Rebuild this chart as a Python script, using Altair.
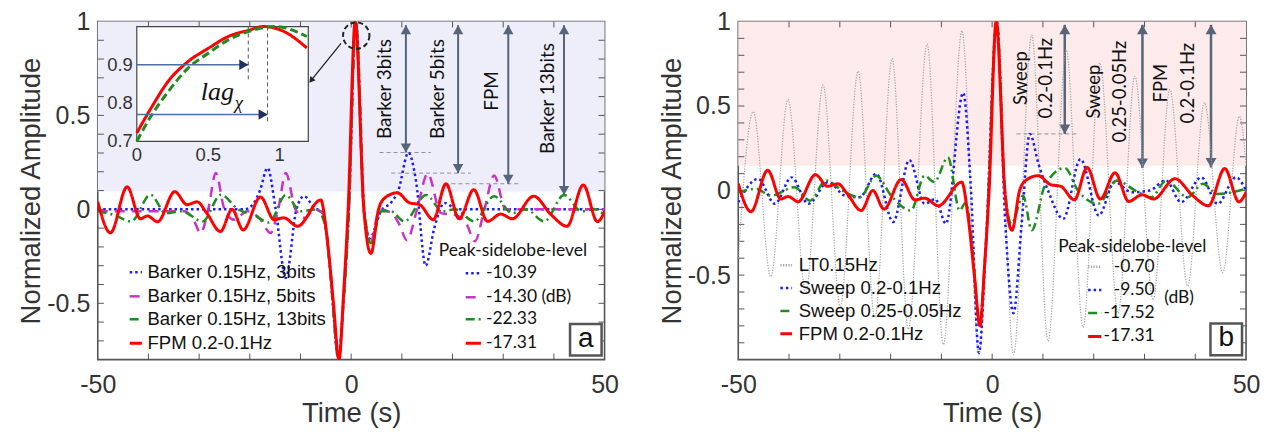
import altair as alt
import pandas as pd

# ---------------- series values (time in s, normalized amplitude) ----------------
# FPM 0.2-0.1Hz (same waveform in both panels)
fpm_t = [-50, -47.5, -44.2, -41.6, -40.2, -38.2, -34.8, -32.4, -30.4, -28.5,
         -25.8, -23.5, -21.3, -17.9, -15.2, -13.3, -10.6, -6.0, -4.8, -3.5,
         -2.4, -1.5, -0.6, 0.8, 2.5, 3.9, 5.4, 6.6, 9.1, 11.5,
         13.5, 16.2, 18.7, 21.3, 24.2, 26.9, 29.5, 31.8, 36.0, 39.5,
         42.6, 45.8, 48.6, 50]
fpm_y = [0.04, -0.125, 0.12, -0.05, -0.035, -0.066, 0.094, 0.025, 0.04, -0.02,
         -0.118, 0.0, -0.11, 0.066, -0.055, -0.045, -0.09, 0.05, -0.14, -0.5,
         -0.80, -0.45, 0.0, 1.0, 0.0, -0.235, 0.0, 0.06, 0.088, 0.035,
         0.025, -0.055, 0.136, -0.05, 0.105, -0.064, -0.025, -0.05, 0.07, -0.03,
         -0.09, 0.13, -0.066, -0.01]

# Barker 0.15Hz, 3 bits
b3_t = [-50, -21.0, -19.3, -18.0, -16.5, -14.9, -12.9, -10.8, -9.3, -7.3,
        -5.6, -4.2, -2.5, -1.5, -0.5, 0.9, 2.5, 3.6, 5.9, 8.0,
        9.3, 11.3, 12.8, 14.7, 16.4, 18.4, 21.0, 50]
b3_y = [0.0, 0.0, 0.03, 0.1, 0.22, 0.0, -0.365, 0.0, 0.07, 0.01,
        -0.02, -0.3, -0.79, -0.48, -0.03, 1.0, 0.0, -0.155, -0.01, 0.04,
        0.1, 0.302, 0.15, -0.30, -0.1, 0.034, 0.0, 0.0]

# Barker 0.15Hz, 5 bits
b5_t = [-50, -33.0, -31.2, -29.7, -28.2, -26.7, -25.0, -23.1, -20.5, -18.0,
        -15.9, -14.4, -12.9, -11.0, -9.0, -7.4, -5.6, -4.2, -2.5, -1.5,
        -0.5, 0.9, 2.5, 3.9, 5.6, 8.0, 9.5, 11.0, 13.0, 15.1,
        17.7, 20.5, 22.8, 24.4, 26.3, 28.2, 30.5, 33.0, 50]
b5_y = [-0.01, -0.01, -0.05, -0.126, 0.0, 0.193, 0.0, -0.055, -0.01, -0.05,
        -0.126, 0.0, 0.193, 0.0, -0.046, 0.0, -0.02, -0.3, -0.79, -0.48,
        -0.03, 1.0, 0.0, -0.17, 0.0, -0.02, -0.08, -0.165, 0.0, 0.19,
        -0.02, -0.03, -0.08, -0.17, 0.0, 0.18, 0.0, 0.0, 0.0]

# Barker 0.15Hz, 13 bits
b13_t = [-50, -46.8, -43.4, -39.6, -36.6, -33.5, -29.3, -25.7, -22.3, -19.2,
         -16.2, -12.9, -10.0, -6.8, -5.0, -3.8, -2.5, -1.5, -0.5, 0.95,
         2.6, 3.9, 5.9, 7.8, 10.5, 14.8, 18.0, 20.5, 24.3, 28.2,
         31.8, 34.5, 38.1, 42.0, 45.5, 48.0, 50]
b13_y = [-0.01, -0.03, -0.064, 0.078, -0.02, -0.01, -0.064, 0.078, 0.0, -0.03,
         -0.07, 0.076, -0.01, 0.0, -0.1, -0.45, -0.80, -0.5, -0.05, 1.0,
         0.0, -0.18, -0.01, -0.01, -0.064, 0.076, -0.01, 0.0, -0.064, 0.07,
         -0.02, 0.0, -0.064, 0.076, -0.01, 0.0, -0.03]

# LT 0.15Hz
lt_t = [-50, -47.05, -43.6, -40.2, -36.7, -33.3, -29.9, -26.4, -23.1, -19.7,
        -16.5, -12.8, -9.6, -5.95, -2.6, 0.9, 4.2, 7.8, 11.0, 14.6,
        17.9, 21.2, 24.8, 28.1, 31.7, 35.0, 38.5, 41.8, 45.4, 48.7, 50]
lt_y = [-0.4, 0.466, -0.51, 0.539, -0.6, 0.624, -0.686, 0.706, -0.75, 0.78,
        -0.82, 0.866, -0.91, 0.945, -0.97, 1.0, -0.97, 0.92, -0.89, 0.833,
        -0.81, 0.755, -0.725, 0.676, -0.647, 0.598, -0.565, 0.52, -0.486, 0.44, 0.15]

# Sweep 0.2-0.1Hz
sw1_t = [-50, -46.1, -42.8, -39.5, -36.2, -32.3, -29.0, -26.1, -22.8, -19.5,
         -16.3, -13.3, -11.2, -9.1, -5.7, -4.2, -2.6, -1.2, 0.9, 2.6,
         4.2, 5.8, 7.4, 9.2, 11.0, 14.0, 17.4, 21.0, 24.1, 27.5,
         31.0, 34.2, 37.2, 41.2, 44.4, 48.0, 50]
sw1_y = [-0.069, 0.069, -0.078, 0.078, -0.078, 0.05, -0.03, -0.04, 0.1, -0.186,
         0.18, -0.078, -0.05, -0.196, 0.578, 0.02, -0.96, -0.3, 1.0, -0.2,
         -0.725, -0.2, 0.335, 0.15, 0.0, -0.167, 0.186, -0.147, 0.05, -0.01,
         0.0, 0.06, -0.069, 0.078, -0.078, 0.078, 0.0]

# Sweep 0.25-0.05Hz
sw2_t = [-50, -46.5, -43.5, -38.9, -35.9, -32.7, -29.5, -26.1, -22.8, -19.9,
         -16.0, -13.3, -11.4, -8.7, -6.4, -5.2, -4.0, -2.5, -1.2, 0.95,
         2.5, 3.8, 6.1, 7.8, 10.4, 14.3, 16.9, 20.9, 24.5, 28.2,
         31.3, 34.3, 38.5, 41.5, 44.4, 50]
sw2_y = [-0.01, 0.01, -0.03, 0.02, -0.06, 0.06, 0.0, -0.04, 0.088, -0.03,
         -0.118, 0.088, 0.05, 0.196, -0.118, -0.07, -0.3, -0.78, -0.3, 1.0,
         0.0, -0.196, -0.03, -0.235, 0.03, 0.133, 0.0, -0.078, 0.059, 0.0,
         -0.04, 0.059, -0.04, 0.04, -0.02, 0.01]

# close-up of the main peak (inset): time in s, amplitude
inset_red_x = [0, 0.1, 0.22, 0.36, 0.5, 0.64, 0.78, 0.89, 1.03, 1.19]
inset_red_y = [0.722, 0.787, 0.857, 0.909, 0.943, 0.974, 0.99, 1.0, 0.987, 0.944]
inset_grn_x = [0, 0.1, 0.22, 0.36, 0.5, 0.64, 0.78, 0.97, 1.19]
inset_grn_y = [0.70, 0.766, 0.83, 0.892, 0.93, 0.965, 0.987, 1.0, 0.974]
inset_lag_level = [0.9, 0.77]
inset_lag_end = [0.78, 0.915]
inset_lag_drop = [0.862, 0.744]

# ---------------- names, levels, labels ----------------
A_NAMES = ["Barker 0.15Hz, 3bits", "Barker 0.15Hz, 5bits", "Barker 0.15Hz, 13bits", "FPM 0.2-0.1Hz"]
A_PSL_TEXT = ["-10.39", "-14.30 (dB)", "-22.33", "-17.31"]
B_NAMES = ["LT0.15Hz", "Sweep 0.2-0.1Hz", "Sweep 0.25-0.05Hz", "FPM 0.2-0.1Hz"]
B_PSL_TEXT = ["-0.70", "-9.50", "-17.52", "-17.31"]
PSL_TITLE = "Peak-sidelobe-level"

A_ARROW_TEXT = ["Barker 3bits", "Barker 5bits", "FPM", "Barker 13bits"]
A_ARROW_PSL_DB = [-10.39, -14.30, -17.31, -22.33]
B_ARROW_TEXT = ["Sweep", "0.2-0.1Hz", "Sweep", "0.25-0.05Hz", "FPM", "0.2-0.1Hz"]
B_ARROW_PSL_DB = [-9.50, -17.52, -17.31]

X_TICK_LABELS = [-50, 0, 50]
Y_TICK_LABELS = [-0.5, 0, 0.5, 1]
INSET_X_LABELS = [0, 0.5, 1]
INSET_Y_LABELS = [0.7, 0.8, 0.9]


def db_to_amp(db):
    return 10 ** (db / 20.0)


# ---------------- styling ----------------
SANS = "Liberation Sans"
HUM = "Lato"
INK = "#111111"
AX_INK = "#333333"
FRAME = "#555555"
ARROW = "#56657a"

RED, BLUE, MAG, GRN, GRAY = "#ff0000", "#1a1aff", "#c832c8", "#1e8c1e", "#a0a0a0"
DOT, DASH, DASHDOT, SOLID, FINE = [2.5, 3], [10, 7], [9, 4, 2, 4], [1, 0], [1.2, 1.5]

A_STYLE = [(BLUE, DOT, 2.5), (MAG, DASH, 2.5), (GRN, DASHDOT, 2.5), (RED, SOLID, 3)]
B_STYLE = [(GRAY, FINE, 1.2), (BLUE, DOT, 2.5), (GRN, DASHDOT, 2.5), (RED, SOLID, 3)]

W_A, W_B, H = 508, 509, 339
XS = alt.Scale(domain=[-50, 50], nice=False, zero=False)
YS_A = alt.Scale(domain=[-0.8, 1.0], nice=False, zero=False)
YS_B = alt.Scale(domain=[-1.0, 1.0], nice=False, zero=False)

NUM = "toString(datum.value)"
# the same explicit axis is given to every layer so that the shared axis merges cleanly
X_AXIS = alt.Axis(values=X_TICK_LABELS, title="Time (s)", labelExpr=NUM, labelFlush=False,
                  labelPadding=13, titlePadding=2)
Y_AXIS = alt.Axis(values=Y_TICK_LABELS, title="Normalized Amplitude", labelExpr=NUM,
                  labelPadding=8, titlePadding=1)

X_MINOR = [v for v in range(-40, 50, 10)]
Y_MINOR_A = [i / 10 for i in range(-7, 10)]
Y_MINOR_B = [i / 10 for i in range(-9, 10)]


def X(field):
    return alt.X(f"{field}:Q", scale=XS, axis=X_AXIS)


def Y(field, ys):
    return alt.Y(f"{field}:Q", scale=ys, axis=Y_AXIS)


def curve(t, y, style, ys):
    color, dash, width = style
    df = pd.DataFrame({"t": t, "y": y})
    return alt.Chart(df).mark_line(interpolate="monotone", clip=True, color=color,
                                   strokeDash=dash, strokeWidth=width).encode(x=X("t"), y=Y("y", ys))


def key_rows(texts, styles, ys, rows_y, sample_t, label_t, align, font, size):
    """One legend row per series: a short line sample followed by its text."""
    layers = []
    for txt, (color, dash, width), yv in zip(texts, styles, rows_y):
        df = pd.DataFrame({"t0": [sample_t[0]], "t1": [sample_t[1]], "tl": [label_t], "y": [yv],
                           "txt": [txt]})
        layers.append(alt.Chart(df).mark_rule(color=color, strokeDash=dash,
                                              strokeWidth=max(width, 2.5)).encode(
            x=X("t0"), x2="t1:Q", y=Y("y", ys)))
        layers.append(alt.Chart(df).mark_text(font=font, fontSize=size, color=INK, align=align,
                                              baseline="middle").encode(
            x=X("tl"), y=Y("y", ys), text="txt:N"))
    return layers


def plain_text(txt, t, yv, ys, **kw):
    df = pd.DataFrame({"t": [t], "y": [yv], "txt": [txt]})
    return alt.Chart(df).mark_text(**kw).encode(x=X("t"), y=Y("y", ys), text="txt:N")


def frame_ticks(ys, lo, hi, yminor, tly, tlx=1.2):
    xdf = pd.DataFrame({"v": X_MINOR * 2,
                        "a": [lo] * len(X_MINOR) + [hi] * len(X_MINOR),
                        "b": [lo + tly] * len(X_MINOR) + [hi - tly] * len(X_MINOR)})
    ydf = pd.DataFrame({"v": yminor * 2,
                        "a": [-50] * len(yminor) + [50] * len(yminor),
                        "b": [-50 + tlx] * len(yminor) + [50 - tlx] * len(yminor)})
    rule = dict(color=FRAME, strokeWidth=1)
    return [
        alt.Chart(xdf).mark_rule(**rule).encode(x=X("v"), y=Y("a", ys), y2="b:Q"),
        alt.Chart(ydf).mark_rule(**rule).encode(y=Y("v", ys), x=X("a"), x2="b:Q"),
    ]


def shade(lo, color, ys):
    df = pd.DataFrame({"t0": [-50], "t1": [50], "y0": [lo], "y1": [1.0]})
    return alt.Chart(df).mark_rect(color=color).encode(x=X("t0"), x2="t1:Q", y=Y("y0", ys), y2="y1:Q")


def double_arrows(ts, levels, top, ys, width, size):
    df = pd.DataFrame({"t": ts, "lo": levels, "hi": [top] * len(ts)})
    base = alt.Chart(df)
    h = 0.866 * (size ** 0.5) / 2
    return [
        base.mark_rule(color=ARROW, strokeWidth=width).encode(x=X("t"), y=Y("lo", ys), y2="hi:Q"),
        base.mark_point(shape="triangle-up", filled=True, color=ARROW, size=size, opacity=1,
                        yOffset=h).encode(x=X("t"), y=Y("hi", ys)),
        base.mark_point(shape="triangle-down", filled=True, color=ARROW, size=size, opacity=1,
                        yOffset=-h).encode(x=X("t"), y=Y("lo", ys)),
    ]


def guides(t0, t1, levels, ys):
    df = pd.DataFrame({"t0": t0, "t1": t1, "lv": levels})
    return alt.Chart(df).mark_rule(color="#8a8f98", strokeWidth=1, strokeDash=[4, 3]).encode(
        x=X("t0"), x2="t1:Q", y=Y("lv", ys))


def vlabels(texts, ts, yv, ys, size):
    df = pd.DataFrame({"t": ts, "y": yv, "txt": texts})
    return alt.Chart(df).mark_text(angle=270, font=HUM, fontSize=size, color=INK,
                                   align="center", baseline="middle").encode(
        x=X("t"), y=Y("y", ys), text="txt:N")


def tag(letter, t, yv, ys):
    df = pd.DataFrame({"t": [t], "y": [yv], "txt": [letter]})
    base = alt.Chart(df)
    return [
        base.mark_point(shape="square", size=1000, filled=True, fill="white", stroke=FRAME,
                        strokeWidth=2.5, opacity=1).encode(x=X("t"), y=Y("y", ys)),
        base.mark_text(font=SANS, fontSize=28, color=INK, baseline="middle", dy=-1).encode(
            x=X("t"), y=Y("y", ys), text="txt:N"),
    ]


def psl_list(texts, styles, ys, title_at, rows_y, sample_t, label_t, align):
    return [plain_text(PSL_TITLE, title_at[0], title_at[1], ys, font=HUM, fontSize=17.5, color=INK,
                       align="left", baseline="middle")] + \
        key_rows(texts, styles, ys, rows_y, sample_t, label_t, align, HUM, 17.5)


# ---------------- panel (a) ----------------
a_levels = [db_to_amp(d) for d in A_ARROW_PSL_DB]

pointer_df = pd.DataFrame({"t": [-2.0], "y": [0.883], "t2": [-7.9], "y2": [0.686], "tc": [1.0],
                           "yc": [0.925]})
pointer = [
    alt.Chart(pointer_df).mark_point(shape="circle", size=700, filled=False, color="#222",
                                      strokeWidth=2, strokeDash=[5, 3], opacity=1).encode(
        x=X("tc"), y=Y("yc", YS_A)),
    alt.Chart(pointer_df).mark_rule(color="#222", strokeWidth=1.3).encode(
        x=X("t"), y=Y("y", YS_A), x2="t2:Q", y2="y2:Q"),
    alt.Chart(pointer_df).mark_point(shape="triangle-up", filled=True, color="#222", size=45,
                                      angle=219, opacity=1).encode(x=X("t2"), y=Y("y2", YS_A)),
]

# inset box placed over the upper-left part of panel (a), in panel coordinates
IN_T0, IN_T1 = -42.3, -8.46
IN_Y0, IN_Y1 = 0.362, 0.973
IN_X_DOM, IN_Y_DOM = (0.0, 1.2), (0.7, 1.0)
KX = (IN_T1 - IN_T0) / (IN_X_DOM[1] - IN_X_DOM[0])
KY = (IN_Y1 - IN_Y0) / (IN_Y_DOM[1] - IN_Y_DOM[0])
TO_T = f"{IN_T0} + (datum.x - {IN_X_DOM[0]}) * {KX}"
TO_Y = f"{IN_Y0} + (datum.y - {IN_Y_DOM[0]}) * {KY}"


def inset_chart(df):
    return alt.Chart(df).transform_calculate(t=TO_T, yy=TO_Y)


def inset_curve(xv, yv, color, dash):
    return inset_chart(pd.DataFrame({"x": xv, "y": yv})).mark_line(
        interpolate="monotone", color=color, strokeWidth=3, strokeDash=dash).encode(
        x=X("t"), y=Y("yy", YS_A))


lag_df = pd.DataFrame({"x": inset_lag_end, "y": inset_lag_level, "drop": inset_lag_drop})
lag_rows = inset_chart(lag_df).transform_calculate(
    t0=f"{IN_T0}", ytop=f"{IN_Y1}", ydrop=f"{IN_Y0} + (datum.drop - {IN_Y_DOM[0]}) * {KY}")
frame_df = pd.DataFrame({"t0": [IN_T0], "t1": [IN_T1], "y0": [IN_Y0], "y1": [IN_Y1]})

inset_layers = [
    alt.Chart(frame_df).mark_rect(fill="white", stroke="#444", strokeWidth=1.2).encode(
        x=X("t0"), x2="t1:Q", y=Y("y0", YS_A), y2="y1:Q"),
    lag_rows.mark_rule(color="#555", strokeWidth=1, strokeDash=[4, 3]).encode(
        x=X("t"), y=Y("ytop", YS_A), y2="ydrop:Q"),
    inset_curve(inset_red_x, inset_red_y, RED, SOLID),
    inset_curve(inset_grn_x, inset_grn_y, GRN, [8, 4]),
    lag_rows.mark_rule(color="#4a6fa5", strokeWidth=1.5).encode(x=X("t0"), x2="t:Q", y=Y("yy", YS_A)),
    lag_rows.mark_point(shape="triangle-right", filled=True, color="#1f3060", size=110, opacity=1,
                        xOffset=-4.5).encode(x=X("t"), y=Y("yy", YS_A)),
    inset_chart(pd.DataFrame({"x": [0.68], "y": [0.83], "txt": ["lag"]})).mark_text(
        font="Liberation Serif", fontStyle="italic", fontSize=26, color=INK, align="right",
        baseline="middle").encode(x=X("t"), y=Y("yy", YS_A), text="txt:N"),
    inset_chart(pd.DataFrame({"x": [0.685], "y": [0.80], "txt": ["χ"]})).mark_text(
        font="Liberation Serif", fontStyle="italic", fontSize=19, color=INK, align="left",
        baseline="middle").encode(x=X("t"), y=Y("yy", YS_A), text="txt:N"),
    inset_chart(pd.DataFrame({"x": INSET_X_LABELS, "y": [IN_Y_DOM[0]] * 3})).transform_calculate(
        lab="toString(datum.x)").mark_text(font=SANS, fontSize=18.5, color=AX_INK, baseline="top",
                                            dy=5).encode(x=X("t"), y=Y("yy", YS_A), text="lab:N"),
    inset_chart(pd.DataFrame({"x": [IN_X_DOM[0]] * 3, "y": INSET_Y_LABELS})).transform_calculate(
        lab="toString(datum.y)").mark_text(font=SANS, fontSize=18.5, color=AX_INK, align="right",
                                            baseline="middle", dx=-4).encode(
        x=X("t"), y=Y("yy", YS_A), text="lab:N"),
]

panel_a = alt.layer(
    shade(0.095, "#eeeefa", YS_A),
    *frame_ticks(YS_A, -0.8, 1.0, Y_MINOR_A, 0.032),
    guides([5.6, 7.9, 18.4], [15.7, 23.6, 33.1], a_levels[:3], YS_A),
    *double_arrows([10.8, 21.1, 31.0, 42.0], a_levels, 0.98, YS_A, 2, 110),
    curve(b3_t, b3_y, A_STYLE[0], YS_A),
    curve(b5_t, b5_y, A_STYLE[1], YS_A),
    curve(b13_t, b13_y, A_STYLE[2], YS_A),
    curve(fpm_t, fpm_y, A_STYLE[3], YS_A),
    vlabels(A_ARROW_TEXT, [6.6, 17.2, 27.7, 38.8], [0.64, 0.64, 0.63, 0.59], YS_A, 19),
    *pointer,
    *tag("a", 46.3, -0.694, YS_A),
    *key_rows(A_NAMES, A_STYLE, YS_A, [-0.335, -0.463, -0.585, -0.713], (-43.7, -41.3), -40.2,
              "left", SANS, 18.6),
    *psl_list(A_PSL_TEXT, A_STYLE, YS_A, (17.3, -0.223), [-0.34, -0.468, -0.585, -0.713],
              (22.6, 25.6), 26.6, "left"),
    *inset_layers,
).properties(width=W_A, height=H)

# ---------------- panel (b) ----------------
b_levels = [db_to_amp(d) for d in B_ARROW_PSL_DB]

panel_b = alt.layer(
    shade(0.147, "#fcebea", YS_B),
    *frame_ticks(YS_B, -1.0, 1.0, Y_MINOR_B, 0.035),
    guides([4.8], [16.9], b_levels[:1], YS_B),
    *double_arrows([14.3, 29.6, 43.1], b_levels, 0.98, YS_B, 2.5, 120),
    curve(lt_t, lt_y, B_STYLE[0], YS_B),
    curve(sw1_t, sw1_y, B_STYLE[1], YS_B),
    curve(sw2_t, sw2_y, B_STYLE[2], YS_B),
    curve(fpm_t, fpm_y, B_STYLE[3], YS_B),
    vlabels(B_ARROW_TEXT, [5.6, 10.7, 20.1, 25.1, 33.3, 38.5],
            [0.665, 0.665, 0.585, 0.585, 0.635, 0.635], YS_B, 18.5),
    plain_text("(dB)", 33.9, -0.635, YS_B, font=HUM, fontSize=17.5, color=INK, align="left",
               baseline="middle"),
    *tag("b", 46.1, -0.88, YS_B),
    *key_rows(B_NAMES, B_STYLE, YS_B, [-0.441, -0.576, -0.712, -0.847], (-41.7, -39.4), -38.1,
              "left", SANS, 18.6),
    *psl_list(B_PSL_TEXT, B_STYLE, YS_B, (13.0, -0.335), [-0.451, -0.588, -0.724, -0.863],
              (18.9, 21.5), 32.0, "right"),
).properties(width=W_B, height=H)

chart = alt.hconcat(panel_a, panel_b, spacing=38).properties(
    padding={"left": 17, "top": 8, "right": 5, "bottom": 5}, background="white"
).configure(font=SANS).configure_view(
    stroke=FRAME, strokeWidth=1.6
).configure_axis(
    labelFont=SANS, labelFontSize=25, labelColor=AX_INK, titleFont=SANS, titleFontSize=27.5,
    titleFontWeight="normal", titleColor=AX_INK, grid=False, ticks=False, domain=False
)

chart.save("out.html", embed_options={"renderer": "svg", "actions": False})
